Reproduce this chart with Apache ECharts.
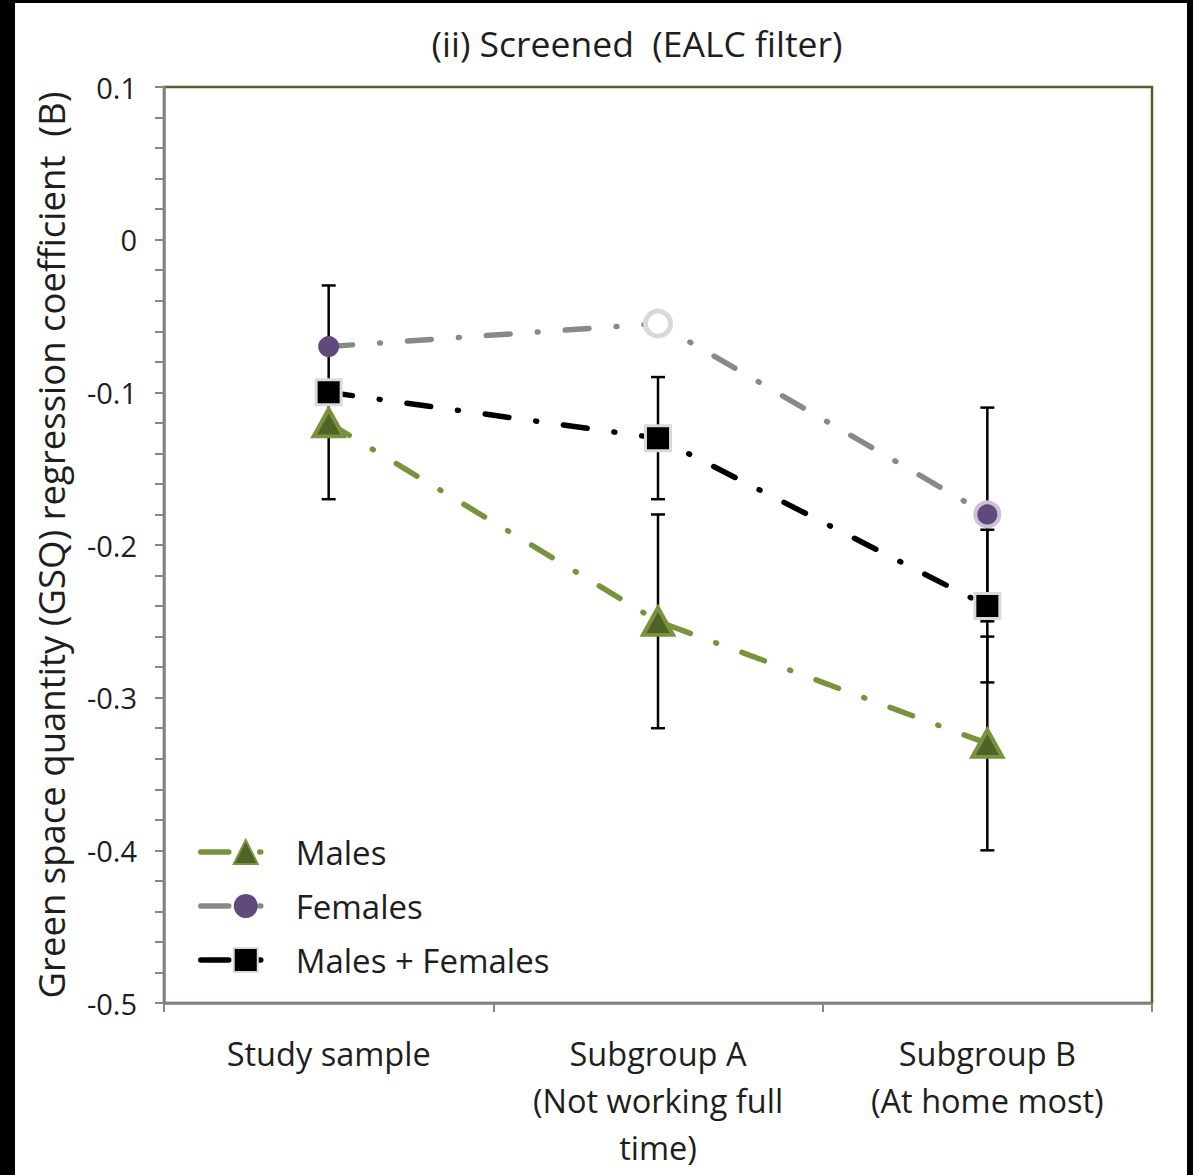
<!DOCTYPE html>
<html>
<head>
<meta charset="utf-8">
<script src="https://cdn.jsdelivr.net/npm/echarts@6/dist/echarts.min.js"></script>
<style>
  html, body { margin: 0; padding: 0; background: #fff; }
  #chart { width: 1193px; height: 1175px; }
</style>
</head>
<body>
<div id="chart"></div>
<script>
// Categories on the x axis
const categories = ['Study sample', 'Subgroup A\n(Not working full\ntime)', 'Subgroup B\n(At home most)'];

// Regression coefficients (B) per group
const males = [-0.12, -0.25, -0.33];
const females = [-0.07, -0.055, -0.18];
const combined = [-0.10, -0.13, -0.24];

// Confidence ranges: [category index, low, high]
const malesErr = [[1, -0.32, -0.18], [2, -0.40, -0.26]];
const femalesErr = [[2, -0.25, -0.11]];
const combinedErr = [[0, -0.17, -0.03], [1, -0.17, -0.09], [2, -0.29, -0.19]];

const titleText = '(ii) Screened  (EALC filter)';
const yName = 'Green space quantity (GSQ) regression coefficient  (B)';
const seriesNames = ['Males', 'Females', 'Males + Females'];

const FONT = '"Open Sans", "Noto Sans", sans-serif';
const TEXT = '#1e1e1e';
const AXIS_GREY = '#868686';
const GREEN = '#77933C';
const DARK_GREEN = '#4F6228';
const GREY_LINE = '#898989';
const PURPLE = '#604A7B';
const DASH_DOT = [24, 27, 1, 27];
const LINE_W = 5.5;

// Per-point marker styles for the female series
const femaleMarkerStyles = [
  { symbolSize: 21, itemStyle: { color: PURPLE, borderWidth: 0 } },
  { symbolSize: 25, itemStyle: { color: '#ffffff', borderColor: '#D9D9D9', borderWidth: 5 } },
  { symbolSize: 24, itemStyle: { color: PURPLE, borderColor: '#CCC1DA', borderWidth: 4 } }
];

const lineColors = [GREEN, GREY_LINE, '#000'];

function renderErrorBar(params, api) {
  const x = api.value(0);
  const lo = api.coord([x, api.value(1)]);
  const hi = api.coord([x, api.value(2)]);
  const cap = 7;
  const style = { stroke: '#000', lineWidth: 2.5 };
  return {
    type: 'group',
    children: [
      { type: 'line', shape: { x1: hi[0], y1: hi[1], x2: lo[0], y2: lo[1] }, style: style },
      { type: 'line', shape: { x1: hi[0] - cap, y1: hi[1], x2: hi[0] + cap, y2: hi[1] }, style: style },
      { type: 'line', shape: { x1: lo[0] - cap, y1: lo[1], x2: lo[0] + cap, y2: lo[1] }, style: style }
    ]
  };
}

function errorSeries(data) {
  return {
    type: 'custom',
    renderItem: renderErrorBar,
    data: data,
    encode: { x: 0, y: [1, 2] },
    z: 1,
    silent: true
  };
}

const chart = echarts.init(document.getElementById('chart'), null, { renderer: 'svg' });

chart.setOption({
  backgroundColor: '#ffffff',
  animation: false,
  graphic: [
    // dark frame along the edges
    { type: 'rect', left: 0, top: 0, shape: { width: 15, height: 1175 }, style: { fill: '#000' } },
    { type: 'rect', left: 0, top: 0, shape: { width: 1193, height: 3 }, style: { fill: '#000' } },
    { type: 'rect', left: 1187, top: 0, shape: { width: 6, height: 1175 }, style: { fill: '#000' } },
    {
      type: 'text', x: 637, y: 43,
      style: { text: titleText, font: '35.5px ' + FONT, fill: TEXT, textAlign: 'center', textVerticalAlign: 'middle' }
    }
  ],
  grid: {
    left: 164, right: 41, top: 87, bottom: 172,
    show: true, borderColor: DARK_GREEN, borderWidth: 2.5, backgroundColor: 'transparent'
  },
  legend: {
    orient: 'vertical',
    left: 198, top: 835, padding: 0,
    itemWidth: 90, itemHeight: 30, itemGap: 20,
    textStyle: { fontFamily: FONT, fontSize: 33, lineHeight: 34, color: TEXT },
    lineStyle: { width: LINE_W, type: [28, 31, 1, 40], cap: 'round' },
    data: seriesNames.map((n, i) => ({
      name: n,
      lineStyle: { color: lineColors[i], width: LINE_W, type: [28, 31, 1, 40], cap: 'round' }
    }))
  },
  xAxis: {
    type: 'category',
    data: categories,
    boundaryGap: true,
    axisLine: { onZero: false, lineStyle: { color: AXIS_GREY, width: 2.5 } },
    axisTick: { show: true, length: 9, lineStyle: { color: AXIS_GREY, width: 2 } },
    axisLabel: { fontFamily: FONT, fontSize: 32.5, lineHeight: 47, color: TEXT, margin: 27, interval: 0 },
    splitLine: { show: false }
  },
  yAxis: {
    type: 'value',
    min: -0.5, max: 0.1, interval: 0.1,
    name: yName,
    nameLocation: 'middle',
    nameRotate: 90,
    nameGap: 95,
    nameTextStyle: { fontFamily: FONT, fontSize: 36.5, color: TEXT },
    axisLine: { show: true, lineStyle: { color: AXIS_GREY, width: 2.5 } },
    axisTick: { show: true, length: 9, lineStyle: { color: AXIS_GREY, width: 2 } },
    minorTick: { show: true, splitNumber: 5, length: 9, lineStyle: { color: AXIS_GREY, width: 2 } },
    axisLabel: {
      fontFamily: FONT, fontSize: 29, color: TEXT, margin: 27,
      formatter: v => (Math.abs(v) < 1e-9 ? '0' : (Math.round(v * 10) / 10).toString())
    },
    splitLine: { show: false }
  },
  series: [
    errorSeries(malesErr),
    errorSeries(femalesErr),
    errorSeries(combinedErr),
    {
      name: seriesNames[0],
      type: 'line',
      data: males,
      symbol: 'triangle',
      symbolSize: [30, 27],
      itemStyle: { color: DARK_GREEN, borderColor: GREEN, borderWidth: 4 },
      lineStyle: { color: GREEN, width: LINE_W, type: DASH_DOT, cap: 'round' },
      z: 3
    },
    {
      name: seriesNames[1],
      type: 'line',
      data: females.map((v, i) => Object.assign({ value: v }, femaleMarkerStyles[i])),
      symbol: 'circle',
      symbolSize: 21,
      itemStyle: { color: PURPLE, borderWidth: 0 },
      lineStyle: { color: GREY_LINE, width: LINE_W, type: DASH_DOT, cap: 'round' },
      z: 3
    },
    {
      name: seriesNames[2],
      type: 'line',
      data: combined,
      symbol: 'rect',
      symbolSize: 25,
      itemStyle: { color: '#000', borderColor: '#D9D9D9', borderWidth: 3 },
      lineStyle: { color: '#000', width: LINE_W, type: DASH_DOT, cap: 'round' },
      z: 4
    }
  ]
});
</script>
</body>
</html>
